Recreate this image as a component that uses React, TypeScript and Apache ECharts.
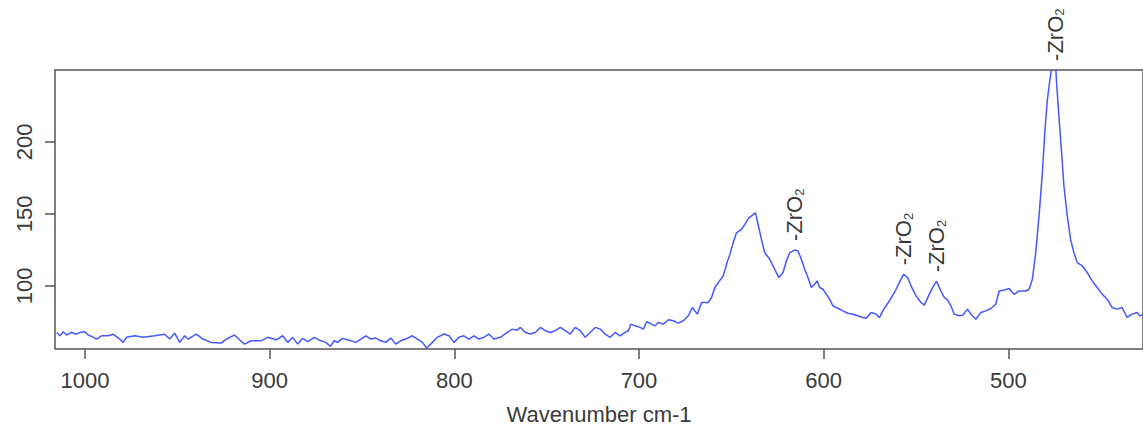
import React, { useEffect, useRef } from "react";
import * as echarts from "echarts";

// Raman spectrum (wavenumber in cm-1, intensity)
const wavenumbers = [
  1015.3, 1013.5, 1011.7, 1009.9, 1007.2, 1004.5, 1002.7, 1000.0, 998.2, 996.4,
  993.7, 991.0, 987.4, 984.7, 981.1, 979.3, 977.5, 973.0, 968.5, 962.2,
  956.8, 954.1, 951.4, 948.7, 946.0, 944.2, 939.7, 936.1, 931.6, 926.2,
  923.5, 919.0, 916.3, 913.6, 910.0, 904.6, 901.0, 896.5, 892.9, 890.2,
  887.5, 884.8, 882.1, 879.4, 875.8, 872.2, 869.5, 867.1, 865.0, 863.2,
  860.5, 857.8, 853.3, 850.6, 847.9, 845.2, 842.5, 839.8, 837.1, 834.4,
  831.7, 829.0, 826.3, 822.7, 820.0, 817.3, 815.0, 812.8, 809.2, 805.6,
  802.9, 800.2, 797.5, 794.8, 792.1, 789.4, 786.7, 784.0, 781.3, 778.6,
  775.0, 771.4, 768.7, 766.0, 764.2, 761.5, 758.8, 756.1, 753.4, 750.7,
  748.0, 745.3, 742.6, 739.9, 737.2, 734.5, 731.8, 729.1, 726.4, 723.7,
  721.0, 718.3, 715.6, 712.9, 710.2, 707.5, 705.7, 704.4, 702.1, 699.4,
  697.6, 695.8, 693.1, 691.3, 689.5, 686.8, 684.1, 681.4, 678.7, 676.0,
  673.3, 671.1, 668.4, 666.1, 662.5, 660.7, 658.9, 657.1, 654.4, 652.6,
  650.8, 649.0, 647.2, 644.5, 642.7, 640.5, 638.2, 636.9, 635.5, 633.7,
  631.9, 629.2, 626.5, 624.3, 622.0, 620.2, 618.4, 615.7, 613.9, 612.1,
  610.3, 608.5, 606.7, 604.9, 603.5, 602.2, 600.4, 598.6, 596.8, 595.0,
  592.3, 589.6, 586.9, 584.2, 581.5, 578.8, 577.0, 574.3, 571.6, 569.8,
  568.0, 564.4, 560.8, 558.1, 556.7, 554.5, 552.7, 550.0, 547.3, 545.5,
  542.8, 540.5, 538.9, 536.5, 534.7, 532.9, 531.1, 529.3, 526.6, 524.8,
  522.1, 520.3, 517.6, 514.9, 512.2, 509.5, 506.8, 505.0, 502.3, 499.6,
  496.9, 494.2, 490.6, 488.8, 487.0, 485.2, 483.4, 481.6, 480.3, 478.9,
  477.5, 476.6, 475.5, 474.6, 473.9, 472.6, 471.3, 469.9, 468.1, 466.3,
  464.5, 462.7, 460.0, 457.3, 454.6, 451.9, 449.2, 446.5, 443.8, 441.1,
  438.4, 435.7, 433.0, 430.3, 428.7, 427.0,
];

const intensity = [
  67.7, 65.4, 68.2, 65.9, 67.7, 66.5, 67.7, 68.2, 65.9, 65.0,
  63.1, 65.4, 65.4, 66.5, 63.1, 60.8, 64.3, 65.4, 64.3, 65.4,
  66.5, 63.1, 67.2, 60.8, 65.4, 63.1, 66.5, 63.1, 60.8, 60.3,
  63.1, 65.9, 62.6, 59.6, 61.9, 61.9, 64.3, 62.6, 65.4, 60.8,
  64.3, 59.6, 63.6, 61.3, 64.3, 61.9, 60.8, 58.0, 61.9, 60.8,
  63.6, 62.6, 60.8, 63.1, 65.4, 63.1, 63.8, 61.9, 60.8, 63.8,
  59.6, 61.9, 63.1, 65.4, 63.1, 60.8, 56.9, 59.6, 64.3, 66.6,
  65.4, 60.8, 64.3, 65.4, 63.1, 65.4, 63.1, 64.3, 66.6, 63.1,
  64.3, 67.7, 70.0, 69.3, 71.2, 67.7, 66.6, 67.7, 71.2, 68.9,
  67.7, 68.9, 71.2, 68.9, 66.6, 71.2, 68.9, 64.3, 67.7, 71.2,
  70.0, 66.6, 64.3, 67.7, 65.4, 67.7, 68.9, 73.5, 72.3, 71.2,
  70.0, 75.1, 73.5, 72.3, 74.6, 73.5, 76.5, 75.8, 74.2, 75.8,
  79.3, 85.0, 80.4, 88.5, 88.5, 91.9, 98.9, 102.3, 106.9, 115.0,
  121.9, 130.0, 136.9, 139.3, 142.7, 147.3, 149.6, 150.8, 142.7, 132.3,
  123.1, 118.5, 111.6, 105.8, 109.3, 117.3, 123.1, 124.9, 124.3, 118.5,
  111.6, 105.8, 98.9, 101.2, 103.5, 98.9, 97.7, 94.3, 90.8, 86.2,
  84.5, 82.7, 81.0, 80.4, 79.3, 78.1, 77.5, 81.6, 80.4, 78.0,
  82.7, 89.7, 97.7, 104.7, 108.1, 105.8, 100.0, 93.1, 88.5, 86.7,
  94.3, 100.0, 103.2, 96.5, 92.0, 90.2, 86.2, 80.4, 79.3, 79.7,
  83.9, 80.4, 76.9, 81.6, 82.7, 84.3, 87.3, 96.5, 97.2, 98.2,
  94.2, 96.5, 96.5, 97.7, 104.6, 123.1, 148.5, 178.5, 206.2, 229.3,
  243.1, 251.0, 262.0, 258.0, 241.0, 217.7, 194.6, 169.3, 148.5, 132.3,
  123.1, 116.2, 113.9, 109.3, 103.5, 98.9, 94.3, 90.8, 85.0, 83.9,
  85.0, 78.1, 80.4, 81.6, 79.2, 80.0,
];

// Peak annotations
const peakWavenumbers = [615.7, 556.7, 538.9, 474.6];
const peakIntensity = [124.9, 108.1, 103.2, 250];
const peakLabel = "{m|-ZrO}{sub|2}";

// Axes
const xTicks = [1000, 900, 800, 700, 600, 500];
const yTicks = [100, 150, 200];
const xAxisTitle = "Wavenumber cm-1";

const FONT = '"Liberation Sans", Arial, Helvetica, sans-serif';

export default function App() {
  const ref = useRef<HTMLDivElement>(null);

  useEffect(() => {
    if (!ref.current) return;
    const chart = echarts.init(ref.current, null, { renderer: "svg" });
    const lineData = wavenumbers.map((w, i) => [w, intensity[i]]);
    const peakData = peakWavenumbers.map((w, i) => [w, peakIntensity[i]]);

    chart.setOption({
      animation: false,
      backgroundColor: "#ffffff",
      grid: {
        left: 55,
        top: 70,
        right: -3,
        bottom: 80,
        show: true,
        borderColor: "#555555",
        borderWidth: 1.5,
        backgroundColor: "transparent",
      },
      xAxis: {
        type: "value",
        inverse: true,
        min: 427.1,
        max: 1016.2,
        name: xAxisTitle,
        nameLocation: "middle",
        nameGap: 54,
        nameTextStyle: { fontSize: 22, color: "#3a3a3a", fontFamily: FONT },
        axisLine: { show: false },
        axisTick: {
          show: true,
          inside: false,
          length: 10,
          customValues: xTicks,
          lineStyle: { color: "#555555", width: 1.5 },
        },
        axisLabel: {
          show: true,
          customValues: xTicks,
          formatter: (v: number) => String(v),
          margin: 20,
          fontSize: 22,
          color: "#3a3a3a",
          fontFamily: FONT,
        },
        splitLine: { show: false },
      },
      yAxis: {
        type: "value",
        min: 56.2,
        max: 250,
        axisLine: { show: false },
        axisTick: {
          show: true,
          inside: false,
          length: 10,
          customValues: yTicks,
          lineStyle: { color: "#555555", width: 1.5 },
        },
        axisLabel: {
          show: true,
          customValues: yTicks,
          formatter: (v: number) => String(v),
          rotate: 90,
          margin: 20,
          fontSize: 22,
          color: "#3a3a3a",
          fontFamily: FONT,
        },
        splitLine: { show: false },
      },
      series: [
        {
          type: "line",
          data: lineData,
          showSymbol: false,
          symbol: "none",
          clip: true,
          lineStyle: { color: "#4458ff", width: 1.5 },
        },
        {
          type: "scatter",
          data: peakData,
          symbolSize: 0.1,
          clip: false,
          itemStyle: { color: "rgba(0,0,0,0)" },
          label: {
            show: true,
            position: "top",
            distance: 9,
            rotate: 90,
            align: "left",
            verticalAlign: "middle",
            formatter: peakLabel,
            color: "#000000",
            fontFamily: FONT,
            rich: {
              m: { fontSize: 22, color: "#000000", fontFamily: FONT },
              sub: { fontSize: 13, verticalAlign: "bottom", color: "#000000", fontFamily: FONT },
            },
          },
        },
      ],
    });

    return () => chart.dispose();
  }, []);

  return (
    <div
      ref={ref}
      style={{ position: "absolute", left: 0, top: 0, width: 1143, height: 430 }}
    />
  );
}
